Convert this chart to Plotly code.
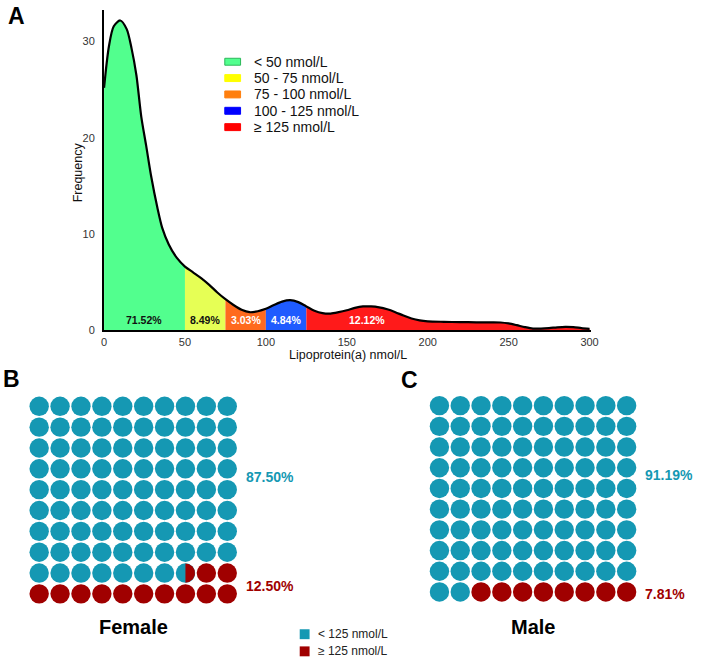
import math
import plotly.graph_objects as go

W, H = 702, 663
FONT = "Liberation Sans, Arial, sans-serif"

# ---------------- Panel A data ----------------
lpa_x = [0, 3, 6, 10, 14, 17, 20, 23, 26, 29, 33, 36, 40, 45, 50, 55, 60, 65, 70, 75,
         80, 85, 90, 95, 100, 105, 110, 115, 120, 125, 130, 135, 140, 145, 150, 155,
         160, 165, 170, 175, 180, 185, 190, 195, 200, 210, 220, 230, 240, 245, 250,
         255, 260, 265, 270, 275, 280, 285, 290, 295, 300]
freq = [25.2, 29.5, 31.6, 32.2, 31.3, 29.3, 26.5, 22.2, 19.2, 16.1, 12.7, 10.6, 8.9, 7.5,
        6.6, 6.0, 5.4, 4.7, 3.9, 3.2, 2.6, 2.1, 1.85, 1.95, 2.2, 2.6, 2.95, 3.1, 2.9,
        2.45, 2.0, 1.75, 1.7, 1.85, 2.05, 2.3, 2.45, 2.45, 2.35, 2.15, 1.85, 1.5, 1.2,
        1.0, 0.9, 0.85, 0.82, 0.8, 0.8, 0.78, 0.68, 0.5, 0.3, 0.15, 0.15, 0.2, 0.28,
        0.33, 0.3, 0.2, 0.12]
bin_edges = [0, 50, 75, 100, 125, 300]
bin_labels = ["< 50 nmol/L", "50 - 75 nmol/L", "75 - 100 nmol/L",
              "100 - 125 nmol/L", "≥ 125 nmol/L"]
bin_pct = ["71.52%", "8.49%", "3.03%", "4.84%", "12.12%"]
pct_label_x = [25, 62.5, 87.5, 112.5, 162.5]
fill_colors = ["#52FF8E", "#E6FF55", "#FF6A1E", "#1F5BFF", "#FF1A1A"]
legend_colors = ["#52FF8E", "#FFFF00", "#FF7F0E", "#0000FF", "#FF0000"]
pct_text_colors = ["#111111", "#111111", "#FFFFFF", "#FFFFFF", "#FFFFFF"]
x_ticks = [0, 50, 100, 150, 200, 250, 300]
y_ticks = [0, 10, 20, 30]

# ---------------- Panels B / C data ----------------
groups = ["Female", "Male"]
low_pct = [87.50, 91.19]
high_pct = [12.50, 7.81]
waffle_labels = ["< 125 nmol/L", "≥ 125 nmol/L"]
TEAL = "#1598B3"
DRED = "#A00000"


def px(x):
    return x / W


def py(y):
    return 1 - y / H


def note(x, y, text, size, color, xanchor="center", yanchor="middle", **kw):
    d = dict(x=x, y=y, xref=kw.pop("xref", "paper"), yref=kw.pop("yref", "paper"),
             text=text, showarrow=False, xanchor=xanchor, yanchor=yanchor,
             font=dict(family=FONT, size=size, color=color))
    d.update(kw)
    return d


fig = go.Figure()

# ---- density segments ----
for i in range(len(bin_labels)):
    lo, hi = bin_edges[i], bin_edges[i + 1]
    xs = [x for x in lpa_x if lo <= x <= hi]
    ys = [freq[lpa_x.index(x)] for x in xs]
    fig.add_trace(go.Scatter(x=xs, y=ys, mode="lines", fill="tozeroy",
                             fillcolor=fill_colors[i],
                             line=dict(width=0, shape="spline", smoothing=0.8),
                             hoverinfo="skip", xaxis="x", yaxis="y"))
fig.add_trace(go.Scatter(x=lpa_x, y=freq, mode="lines",
                         line=dict(color="black", width=2.2, shape="spline", smoothing=0.8),
                         hoverinfo="skip", xaxis="x", yaxis="y"))

annotations = []
shapes = []
for i, t in enumerate(bin_pct):
    annotations.append(note(pct_label_x[i], 1.0, "<b>%s</b>" % t, 10.5, pct_text_colors[i],
                            xref="x", yref="y"))

# top legend
for i, lab in enumerate(bin_labels):
    cy = 62.3 + i * 16.5
    shapes.append(dict(type="rect", xref="paper", yref="paper",
                       x0=px(225), x1=px(241), y0=py(cy + 3.5), y1=py(cy - 3.5),
                       fillcolor=legend_colors[i],
                       line=dict(color="#2CB85A" if i == 0 else legend_colors[i], width=1)))
    annotations.append(note(px(253), py(cy), lab, 14, "#111111", xanchor="left"))

# axis titles & panel letters
annotations.append(note(px(350), py(358), "Lipoprotein(a) nmol/L", 12.5, "#111111"))
annotations.append(note(px(77), py(174), "Frequency", 12.5, "#111111", textangle=-90))
for letter, lx, ly in [("A", 14, 16), ("B", 9, 382), ("C", 412, 383)]:
    annotations.append(note(px(lx), py(ly), "<b>%s</b>" % letter, 23, "black"))

# ---------------- waffles ----------------
grid_px = [  # left, right, top, bottom pixel edges of each grid
    (26.1, 238.1, 399.5, 609.8),
    (432.2, 643.2, 398.9, 607.8),
]
label_rows = [(5.6, 0.4), (5.65, -0.1)]
for g in range(2):
    xa = "x%d" % (g + 2)
    ya = "y%d" % (g + 2)
    n_high = round(high_pct[g] * 2) / 2
    full = int(n_high)
    half = (n_high - full) > 0
    tx, ty, rx, ry, hx, hy = [], [], [], [], [], []
    for k in range(100):
        row = k // 10
        col = 9 - k % 10
        if k < full:
            rx.append(col); ry.append(row)
        else:
            tx.append(col); ty.append(row)
            if half and k == full:
                hx.append(col); hy.append(row)
    fig.add_trace(go.Scatter(x=tx, y=ty, mode="markers", xaxis=xa, yaxis=ya,
                             marker=dict(size=19.4, color=TEAL, line=dict(width=0)),
                             hoverinfo="skip"))
    fig.add_trace(go.Scatter(x=rx, y=ry, mode="markers", xaxis=xa, yaxis=ya,
                             marker=dict(size=19.4, color=DRED, line=dict(width=0)),
                             hoverinfo="skip"))
    l, r, t, b = grid_px[g]
    upx = (r - l) / 10.0
    upy = (b - t) / 10.0
    rad = 9.7
    for cx, cy in zip(hx, hy):
        n = 40
        ax_ = [cx + (rad / upx) * math.cos(-math.pi / 2 + math.pi * j / n) for j in range(n + 1)]
        ay_ = [cy + (rad / upy) * math.sin(-math.pi / 2 + math.pi * j / n) for j in range(n + 1)]
        fig.add_trace(go.Scatter(x=ax_ + [ax_[0]], y=ay_ + [ay_[0]], mode="lines",
                                 fill="toself", fillcolor=DRED, line=dict(width=0),
                                 xaxis=xa, yaxis=ya, hoverinfo="skip"))
    fig.layout["xaxis%d" % (g + 2)] = dict(domain=[px(l), px(r)], range=[-0.5, 9.5],
                                           visible=False, fixedrange=True)
    fig.layout["yaxis%d" % (g + 2)] = dict(domain=[py(b), py(t)], range=[-0.5, 9.5],
                                           visible=False, fixedrange=True)
    annotations.append(note(9.5, label_rows[g][0], "<b>%.2f%%</b>" % low_pct[g], 14, TEAL,
                            xanchor="left", xref=xa, yref=ya, xshift=6))
    annotations.append(note(9.5, label_rows[g][1], "<b>%.2f%%</b>" % high_pct[g], 14, DRED,
                            xanchor="left", xref=xa, yref=ya, xshift=6))
    annotations.append(note((px(l) + px(r)) / 2, py(633), "<b>%s</b>" % groups[g], 20, "black"))

# bottom legend
for i, lab in enumerate(waffle_labels):
    cy = 640 + i * 17.3
    shapes.append(dict(type="rect", xref="paper", yref="paper",
                       x0=px(301), x1=px(311), y0=py(cy + 5), y1=py(cy - 5),
                       fillcolor=[TEAL, DRED][i], line=dict(width=0)))
    annotations.append(note(px(318), py(cy), lab, 12, "#222222", xanchor="left"))

fig.update_layout(
    width=W, height=H, margin=dict(l=0, r=0, t=0, b=0),
    paper_bgcolor="white", plot_bgcolor="white", showlegend=False,
    xaxis=dict(domain=[px(102.5), px(597)], range=[0, 301.2], tickvals=x_ticks,
               showgrid=False, zeroline=False, showline=True, linecolor="black", linewidth=2,
               ticks="", ticklabelstandoff=1,
               tickfont=dict(family=FONT, size=11, color="#333333"), fixedrange=True),
    yaxis=dict(domain=[py(333), py(10)], range=[0, 33.3], tickvals=y_ticks,
               showgrid=False, zeroline=False, showline=True, linecolor="black", linewidth=2,
               ticks="", ticklabelstandoff=5,
               tickfont=dict(family=FONT, size=11, color="#333333"), fixedrange=True),
    annotations=annotations, shapes=shapes,
)

fig.write_html("out.html")
